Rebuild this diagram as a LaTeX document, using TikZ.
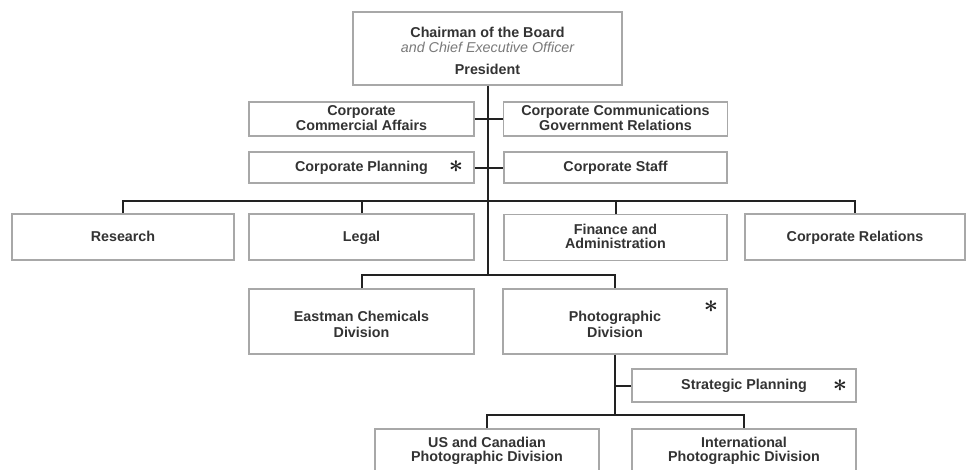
\documentclass[tikz,border=0pt]{standalone}
\usepackage{fontspec}
\setmainfont{Liberation Sans}
\definecolor{inkgray}{HTML}{333333}
\definecolor{boxgray}{HTML}{A8A8A8}
\definecolor{linegray}{HTML}{222222}
\definecolor{softgray}{HTML}{7A7A7A}
% strut centred on the capitals, so single and double lines sit alike
\newcommand\boxstrut{\rule[-2.5pt]{0pt}{14pt}}
\begin{document}
\begin{tikzpicture}[x=1pt,y=-1pt,
  unit/.style={draw=boxgray, line width=1.1pt, fill=white, inner sep=0pt,
    text=inkgray, align=center, font=\fontsize{14.3}{14.8}\selectfont\bfseries,
    execute at begin node=\boxstrut, execute at end node=\boxstrut},
  link/.style={draw=linegray, line width=2pt},
  star/.style={text=linegray, inner sep=0pt, font=\fontsize{35}{35}\selectfont\boldmath}
]
\useasboundingbox (0,0) rectangle (966,469);
\clip (0,0) rectangle (966,469);

% executive office
\node[unit, minimum width=269pt, minimum height=73pt] (ceo) at (487.5,48.5)
  {\rule{0pt}{17pt}Chairman of the Board\\[0.6pt]
   {\mdseries\itshape\color{softgray}and Chief Executive Officer}\\[7pt]
   President};

% staff units beside the main line
\node[unit, minimum width=225pt, minimum height=34pt] (cca) at (361.5,119) {Corporate\\Commercial Affairs};
\node[unit, minimum width=224pt, minimum height=34pt] (ccgr) at (615.5,119) {Corporate Communications\\Government Relations};
\node[unit, minimum width=225pt, minimum height=31pt] (cplan) at (361.5,167.5) {Corporate Planning};
\node[unit, minimum width=223pt, minimum height=31pt] (cstaff) at (615.5,167.5) {Corporate Staff};

% corporate functions
\node[unit, minimum width=222pt, minimum height=46pt] (research) at (123,237) {Research};
\node[unit, minimum width=225pt, minimum height=46pt] (legal) at (361.5,237) {Legal};
\node[unit, minimum width=223pt, minimum height=46pt] (finance) at (615.5,237.5) {Finance and\\[-1pt]Administration};
\node[unit, minimum width=220pt, minimum height=46pt] (corprel) at (855,237) {Corporate Relations};

% operating divisions
\node[unit, minimum width=225pt, minimum height=65pt] (chem) at (361.5,321.5) {\rule{0pt}{19pt}Eastman Chemicals\\[1.5pt]Division};
\node[unit, minimum width=224pt, minimum height=65pt] (photo) at (615,321.5) {\rule{0pt}{19pt}Photographic\\[1.5pt]Division};

% photographic sub-units
\node[unit, minimum width=224pt, minimum height=33pt] (strat) at (744,385.5) {Strategic Planning};
\node[unit, minimum width=224pt, minimum height=70pt] (usca) at (487,464) {US and Canadian\\Photographic Division\\[12pt]};
\node[unit, minimum width=224pt, minimum height=70pt] (intl) at (744,464) {International\\Photographic Division\\[12pt]};

% markers
\node[star] (star1) at (456,167) {$\ast$};
\node[star] (star2) at (711,306.5) {$\ast$};
\node[star] (star3) at (840,386) {$\ast$};

% bus levels
\coordinate (busA) at (488,201);
\coordinate (busB) at (488,275);
\coordinate (busC) at (616,415);

% main line and staff ties
\draw[link] (ceo.south) -- (ceo.south |- busB);
\draw[link] (cca.east) -- (ccgr.west);
\draw[link] (cplan.east) -- (cstaff.west);

% functions bus
\draw[link] (research.north) -- (research.north |- busA) -- (corprel.north |- busA) -- (corprel.north);
\draw[link] (legal.north) -- (legal.north |- busA);
\draw[link] (finance.north) -- (finance.north |- busA);

% divisions bus
\draw[link] (chem.north) -- (chem.north |- busB) -- (photo.north |- busB) -- (photo.north);

% photographic division branch
\draw[link] (photo.south) -- (photo.south |- busC);
\draw[link] (photo.south |- strat.west) -- (strat.west);
\draw[link] (usca.north) -- (usca.north |- busC) -- (intl.north |- busC) -- (intl.north);
\end{tikzpicture}
\end{document}
